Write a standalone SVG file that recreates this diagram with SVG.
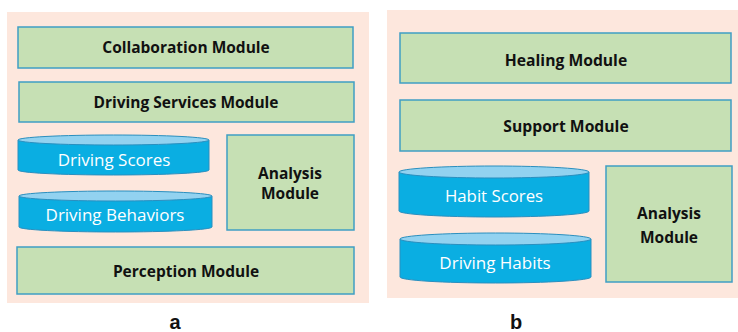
<svg xmlns="http://www.w3.org/2000/svg" width="738" height="332" viewBox="0 0 738 332">
  <style>
    .panel { fill: #fde7dd; }
    .mod { fill: #c6e0b4; stroke: #3f9fc4; stroke-width: 1.5; }
    .mtxt { font-family: "Open Sans", "Noto Sans", sans-serif; font-weight: bold; fill: #111; text-anchor: middle; dominant-baseline: central; }
    .body { fill: #0aaee2; stroke: #2a8fbf; stroke-width: 1; }
    .top { fill: #92d2f0; stroke: #2a8fbf; stroke-width: 1; }
    .ctxt { font-family: "Open Sans", "Noto Sans", sans-serif; font-weight: 500; fill: #ffffff; text-anchor: middle; dominant-baseline: central; }
    .lbl { font-family: "Liberation Sans", Arial, sans-serif; font-weight: bold; font-size: 20px; fill: #111; text-anchor: middle; }
  </style>

  <rect width="738" height="332" fill="#ffffff"/>

  <!-- panel a -->
  <rect class="panel" x="7" y="12" width="362" height="291"/>
  <g id="collaboration">
    <rect class="mod" x="18" y="27" width="335" height="41"/>
    <text class="mtxt" x="186" y="47" font-size="15.5">Collaboration Module</text>
  </g>
  <g id="driving-services">
    <rect class="mod" x="19" y="82" width="335" height="40"/>
    <text class="mtxt" x="186" y="102" font-size="15.5">Driving Services Module</text>
  </g>
  <g id="driving-scores">
    <path class="body" d="M18,140 V170 A95.5,5 0 0 0 209,170 V140 Z"/>
    <ellipse class="top" cx="113.5" cy="140" rx="95.5" ry="5"/>
    <text class="ctxt" x="114" y="159" font-size="17">Driving Scores</text>
  </g>
  <g id="driving-behaviors">
    <path class="body" d="M19,196 V227 A96.5,5 0 0 0 212,227 V196 Z"/>
    <ellipse class="top" cx="115.5" cy="196" rx="96.5" ry="5"/>
    <text class="ctxt" x="115" y="214" font-size="17">Driving Behaviors</text>
  </g>
  <g id="analysis-a">
    <rect class="mod" x="227" y="135" width="127" height="95"/>
    <text class="mtxt" x="290" y="173" font-size="15.5">Analysis</text>
    <text class="mtxt" x="290" y="193" font-size="15.5">Module</text>
  </g>
  <g id="perception">
    <rect class="mod" x="17" y="247" width="337" height="47"/>
    <text class="mtxt" x="186" y="271" font-size="15.5">Perception Module</text>
  </g>
  <text class="lbl" x="175" y="329">a</text>

  <!-- panel b -->
  <rect class="panel" x="387" y="10" width="351" height="288"/>
  <g id="healing">
    <rect class="mod" x="400" y="33" width="331" height="50"/>
    <text class="mtxt" x="566" y="60" font-size="15.7">Healing Module</text>
  </g>
  <g id="support">
    <rect class="mod" x="400" y="100" width="331" height="51"/>
    <text class="mtxt" x="566" y="126" font-size="15.7">Support Module</text>
  </g>
  <g id="habit-scores">
    <path class="body" d="M399,172 V211 A95,6 0 0 0 589,211 V172 Z"/>
    <ellipse class="top" cx="494" cy="172" rx="95" ry="6"/>
    <text class="ctxt" x="494" y="195" font-size="16.8">Habit Scores</text>
  </g>
  <g id="driving-habits">
    <path class="body" d="M400,239 V277 A95.5,6 0 0 0 591,277 V239 Z"/>
    <ellipse class="top" cx="495.5" cy="239" rx="95.5" ry="6"/>
    <text class="ctxt" x="495" y="262" font-size="17">Driving Habits</text>
  </g>
  <g id="analysis-b">
    <rect class="mod" x="606" y="166" width="126" height="116"/>
    <text class="mtxt" x="669" y="213" font-size="15.5">Analysis</text>
    <text class="mtxt" x="669" y="237" font-size="15.5">Module</text>
  </g>
  <text class="lbl" x="516" y="329">b</text>

  <g id="connectors"/>
</svg>
